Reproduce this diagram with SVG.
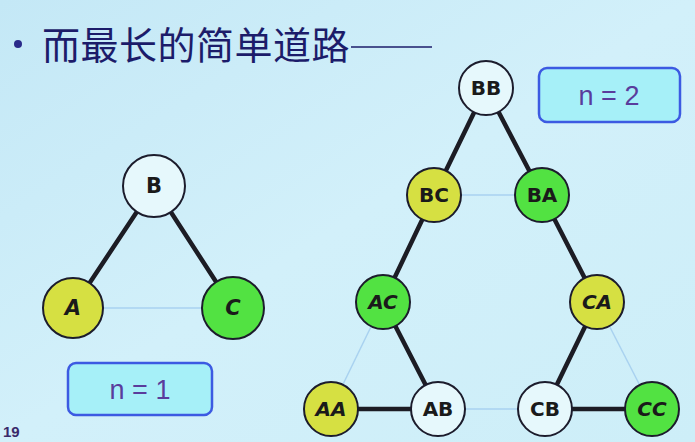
<svg xmlns="http://www.w3.org/2000/svg" width="695" height="442" viewBox="0 0 695 442">
<defs>
<linearGradient id="bg" x1="0" y1="0" x2="1" y2="1">
<stop offset="0" stop-color="#c4e8f6"/>
<stop offset="0.5" stop-color="#d2f0fa"/>
<stop offset="1" stop-color="#cdeef8"/>
</linearGradient>
<style>
.thick{stroke:#1c1c24;stroke-width:4.5;stroke-linecap:round}
.thin{stroke:#a9d2f0;stroke-width:1.5}
.nd{stroke:#1c1c2c;stroke-width:2}
.y{fill:#d6e042}
.g{fill:#52e242}
.w{fill:#e6f8fc}
.lbl{font-family:"DejaVu Sans",sans-serif;font-weight:bold;fill:#1a1a1a;text-anchor:middle;dominant-baseline:central}
.box{fill:#a6f0f8;stroke:#3c5ae2;stroke-width:2.5}
.boxt{font-family:"Liberation Sans",Arial,sans-serif;font-size:27px;fill:#5a3c9c;text-anchor:middle;dominant-baseline:central}
</style>
</defs>
<rect width="695" height="442" fill="url(#bg)"/>
<g id="title">
<circle cx="18" cy="44" r="4" fill="#2a2a8a"/>
<text x="42" y="59" font-family="'Noto Sans CJK SC',sans-serif" font-size="38" letter-spacing="0.5" fill="#1c1c6a">而最长的简单道路</text>
<line x1="351" y1="47" x2="432" y2="47" stroke="#1c1c6a" stroke-width="1.5"/>
</g>
<g id="connectors">
<line class="thick" x1="154" y1="186" x2="73" y2="308"/>
<line class="thick" x1="154" y1="186" x2="233" y2="308"/>
<line class="thin" x1="73" y1="308" x2="233" y2="308"/>
<line class="thick" x1="486" y1="88" x2="434" y2="195"/>
<line class="thick" x1="486" y1="88" x2="542" y2="195"/>
<line class="thin" x1="434" y1="195" x2="542" y2="195"/>
<line class="thick" x1="434" y1="195" x2="383" y2="302"/>
<line class="thick" x1="542" y1="195" x2="597" y2="302"/>
<line class="thick" x1="383" y1="302" x2="438" y2="409"/>
<line class="thin" x1="383" y1="302" x2="331" y2="409"/>
<line class="thick" x1="597" y1="302" x2="545" y2="409"/>
<line class="thin" x1="597" y1="302" x2="652" y2="409"/>
<line class="thick" x1="331" y1="409" x2="438" y2="409"/>
<line class="thin" x1="438" y1="409" x2="545" y2="409"/>
<line class="thick" x1="545" y1="409" x2="652" y2="409"/>
</g>
<g id="B"><circle class="nd w" cx="154" cy="186" r="31"/><text class="lbl" x="154" y="186" font-size="21">B</text></g>
<g id="A"><circle class="nd y" cx="73" cy="308" r="30"/><text class="lbl" x="73" y="308" font-size="21" font-style="italic">A</text></g>
<g id="C"><circle class="nd g" cx="233" cy="308" r="31"/><text class="lbl" x="233" y="308" font-size="21" font-style="italic">C</text></g>
<g id="n1"><rect class="box" x="68" y="363" width="144" height="52" rx="8"/><text class="boxt" x="140" y="390">n = 1</text></g>
<g id="BB"><circle class="nd w" cx="486" cy="88" r="27"/><text class="lbl" x="486" y="88" font-size="20">BB</text></g>
<g id="n2"><rect class="box" x="539" y="68" width="141" height="54" rx="8"/><text class="boxt" x="609" y="96">n = 2</text></g>
<g id="BC"><circle class="nd y" cx="434" cy="195" r="27"/><text class="lbl" x="434" y="195" font-size="20">BC</text></g>
<g id="BA"><circle class="nd g" cx="542" cy="195" r="27"/><text class="lbl" x="542" y="195" font-size="20">BA</text></g>
<g id="AC"><circle class="nd g" cx="383" cy="302" r="27"/><text class="lbl" x="383" y="302" font-size="20" font-style="italic">AC</text></g>
<g id="CA"><circle class="nd y" cx="597" cy="302" r="27"/><text class="lbl" x="597" y="302" font-size="20" font-style="italic">CA</text></g>
<g id="AA"><circle class="nd y" cx="331" cy="409" r="27"/><text class="lbl" x="331" y="409" font-size="20" font-style="italic">AA</text></g>
<g id="AB"><circle class="nd w" cx="438" cy="409" r="27"/><text class="lbl" x="438" y="409" font-size="20">AB</text></g>
<g id="CB"><circle class="nd w" cx="545" cy="409" r="27"/><text class="lbl" x="545" y="409" font-size="20">CB</text></g>
<g id="CC"><circle class="nd g" cx="652" cy="409" r="27"/><text class="lbl" x="652" y="409" font-size="20" font-style="italic">CC</text></g>
<text x="3" y="437" font-family="'Liberation Sans',Arial,sans-serif" font-weight="bold" font-size="15" fill="#3a2a6a">19</text>
</svg>
